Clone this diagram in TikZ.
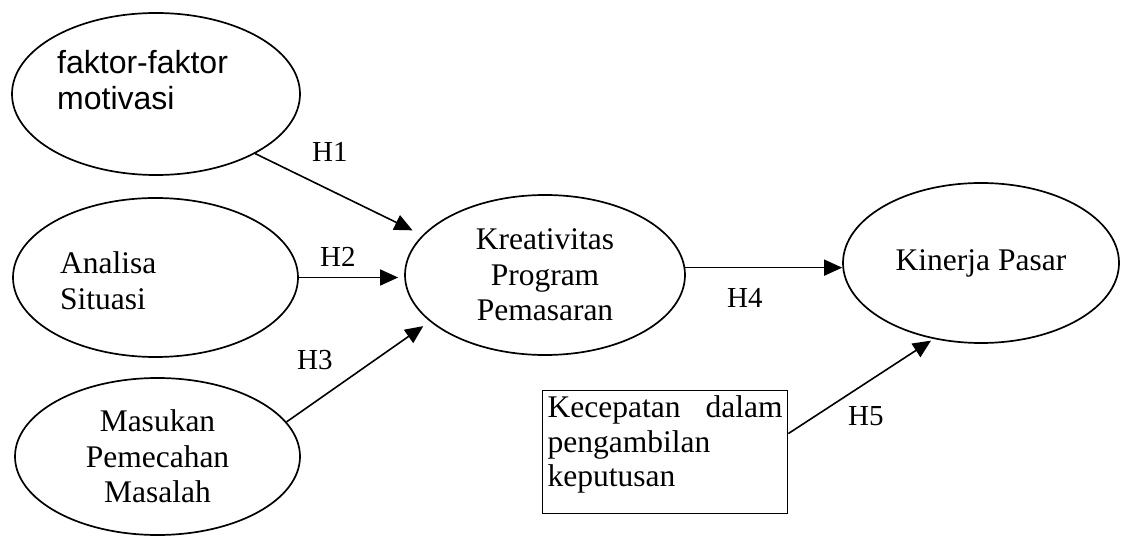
\documentclass[tikz,border=0pt]{standalone}
\usepackage{fontspec}
\setmainfont{Liberation Serif}
\newfontfamily\arialfont{Liberation Sans}
\usetikzlibrary{shapes.geometric,arrows.meta,calc}
\begin{document}
\begin{tikzpicture}[x=1pt,y=-1pt,
  oval/.style={ellipse, draw, line width=1.7pt, inner sep=0pt, align=center,
    font=\fontsize{31.5}{35.5}\selectfont},
  lbl/.style={anchor=north west, inner sep=0pt, align=left},
  hyp/.style={anchor=base west, inner sep=0pt, font=\fontsize{29}{33}\selectfont},
  link/.style={line width=1.6pt, -{Triangle[length=18pt,width=16pt]}}]
\useasboundingbox (0,0) rectangle (1122,537);

% independent variables
\node[oval, minimum width=288pt, minimum height=162pt] (e1) at (156,94) {};
\node[lbl, font=\arialfont\fontsize{32}{36}\selectfont] (t1) at (57,50) {faktor-faktor\\motivasi};

\node[oval, minimum width=285pt, minimum height=159pt] (e2) at (155.5,277.5) {};
\node[lbl, font=\fontsize{31.5}{36}\selectfont] (t2) at (60,251) {Analisa\\Situasi};

\node[oval, minimum width=285pt, minimum height=157pt] (e3) at (157.5,456.5) {Masukan\\Pemecahan\\Masalah};

% mediator and outcome
\node[oval, minimum width=280pt, minimum height=160pt] (e4) at (545,275) {Kreativitas\\Program\\Pemasaran};
\node[oval, minimum width=276pt, minimum height=160pt] (e5) at (981,263) {Kinerja Pasar};

% moderating factor
\node[draw, line width=1.4pt, anchor=north west, inner sep=5pt,
  font=\fontsize{31.5}{34.5}\selectfont] (b) at (542,390)
  {\parbox[t][113pt][t]{235pt}{Kecepatan\hfill dalam\\pengambilan\\keputusan}};

% hypothesised paths
\draw[link, shorten >=11pt] (e1.-31) -- (e4.162);
\draw[link, shorten >=6pt] (e2.east) -- (e2.east -| e4.west);
\draw[link, shorten >=8pt] (e3.15) -- (e4.202);
\draw[link] (e4.3) -- (e4.3 -| e5.west);
\draw[link, shorten >=3pt] ($(b.north east)!0.35!(b.south east)$) -- (e5.238);

\node[hyp] (h1) at (312,162) {H1};
\node[hyp] (h2) at (320,267) {H2};
\node[hyp] (h3) at (297,370) {H3};
\node[hyp] (h4) at (727,308) {H4};
\node[hyp] (h5) at (848,425) {H5};
\end{tikzpicture}
\end{document}
